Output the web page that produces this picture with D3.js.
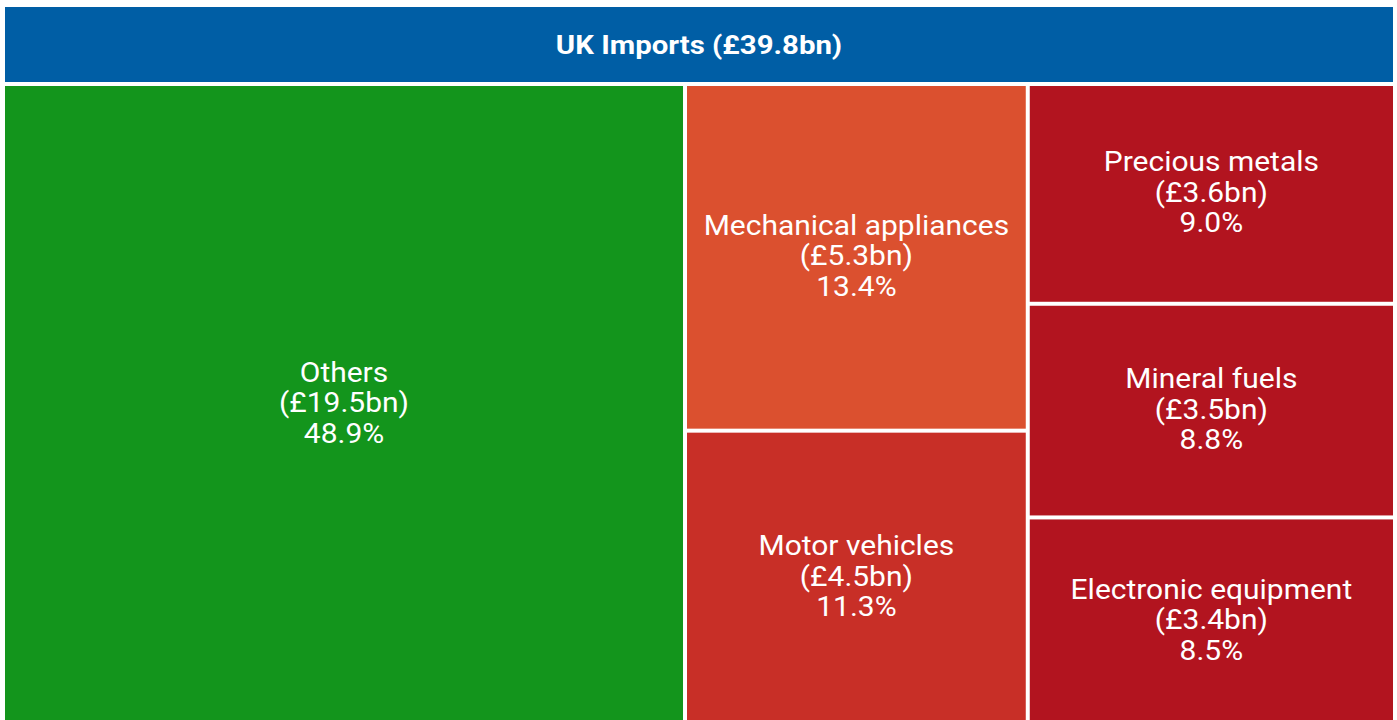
<!DOCTYPE html>
<html>
<head>
<meta charset="utf-8">
<script src="https://cdn.jsdelivr.net/npm/d3@7"></script>
<style>
  body { margin: 0; background: #fff; overflow: hidden; }
  svg { display: block; font-family: Roboto, sans-serif; }
</style>
</head>
<body>
<svg></svg>
<script>
// data
let title = "UK Imports (£39.8bn)";
let names = ["Others", "Mechanical appliances", "Motor vehicles", "Precious metals", "Mineral fuels", "Electronic equipment"];
let values = [19.5, 5.3, 4.5, 3.6, 3.5, 3.4];
let shares = [48.9, 13.4, 11.3, 9.0, 8.8, 8.5];
let colors = ["#13951c", "#db502f", "#c82f27", "#b2141f", "#b2141f", "#b2141f"];

let W = 1397, H = 720;
let svg = d3.select("svg").attr("width", W).attr("height", H);

let aux = { left: 5, right: 1393, headTop: 7, headBottom: 82, top: 86, bottom: 723, gap: 4, stretch: 1.11 };

// header bar
svg.append("rect")
  .attr("x", aux.left).attr("y", aux.headTop)
  .attr("width", aux.right - aux.left).attr("height", aux.headBottom - aux.headTop)
  .attr("fill", "#005ea5");

// text in the reference is a bit wider than plain Roboto, so stretch it
svg.append("text")
  .attr("transform", `translate(${(aux.left + aux.right) / 2},${(aux.headTop + aux.headBottom) / 2}) scale(1.13,1)`)
  .attr("text-anchor", "middle").attr("dy", "0.35em")
  .attr("fill", "white").attr("font-size", 26).attr("font-weight", "bold")
  .text(title);

let leaves = names.map((n, i) => ({ name: n, value: values[i], share: shares[i], color: colors[i] }));

let root = d3.hierarchy({ children: leaves })
  .sum(d => d.value || 0)
  .sort((a, b) => b.value - a.value);

d3.treemap()
  .tile(d3.treemapSquarify.ratio(1))
  .size([aux.right - aux.left, aux.bottom - aux.top])
  .paddingInner(aux.gap)(root);

let cells = svg.append("g")
  .attr("transform", `translate(${aux.left},${aux.top})`)
  .selectAll("g")
  .data(root.leaves())
  .join("g")
  .attr("transform", d => `translate(${d.x0},${d.y0})`);

cells.append("rect")
  .attr("width", d => d.x1 - d.x0)
  .attr("height", d => d.y1 - d.y0)
  .attr("fill", d => d.data.color);

let lineH = 30.5;
cells.append("text")
  .attr("transform", d => `translate(${(d.x1 - d.x0) / 2},${(d.y1 - d.y0) / 2 - 1.5}) scale(${aux.stretch},1)`)
  .attr("text-anchor", "middle")
  .attr("fill", "white")
  .attr("font-size", 27)
  .selectAll("tspan")
  .data(d => [d.data.name, `(£${d.data.value.toFixed(1)}bn)`, `${d.data.share.toFixed(1)}%`]
      .map((t, i) => ({ t, y: (i - 1) * lineH })))
  .join("tspan")
  .attr("x", 0)
  .attr("y", d => d.y)
  .attr("dy", "0.35em")
  .text(d => d.t);
</script>
</body>
</html>
